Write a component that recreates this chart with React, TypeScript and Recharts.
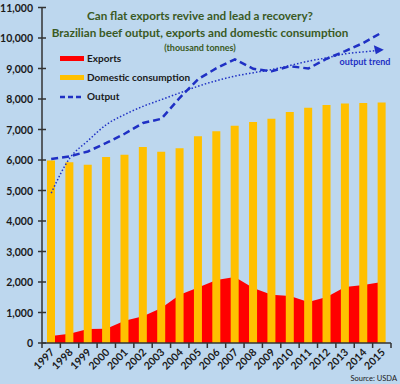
import { ComposedChart, Area, Bar, Line, XAxis, YAxis } from 'recharts';

const years = ['1997', '1998', '1999', '2000', '2001', '2002', '2003', '2004', '2005', '2006', '2007', '2008', '2009', '2010', '2011', '2012', '2013', '2014', '2015'];
const exportsKt = [230, 305, 455, 468, 732, 875, 1150, 1580, 1820, 2065, 2165, 1800, 1585, 1545, 1348, 1505, 1835, 1900, 2000];
const consumption = [5980, 5930, 5846, 6098, 6174, 6426, 6272, 6382, 6776, 6940, 7126, 7248, 7356, 7576, 7717, 7806, 7849, 7871, 7882];
const output = [6030, 6120, 6280, 6560, 6860, 7215, 7350, 8040, 8650, 9010, 9300, 8990, 8910, 9075, 9000, 9320, 9570, 9840, 10180];
const trend = [4915, 6050, 6630, 7160, 7490, 7760, 7980, 8200, 8420, 8600, 8750, 8860, 8965, 9100, 9240, 9350, 9480, 9545, 9600];
const yTicks = [0, 1000, 2000, 3000, 4000, 5000, 6000, 7000, 8000, 9000, 10000, 11000];

const data = years.map((year, i) => ({
  year,
  exports: exportsKt[i],
  consumption: consumption[i],
  output: output[i],
  trend: trend[i],
}));

const BG = '#bdd7ee';
const GREEN = '#3a5a24';
const BLUE = '#1f30c4';
const FONT = 'Lato, "Liberation Sans", sans-serif';
const W = 400;
const H = 384;
const PLOT_LEFT = 42;
const PLOT_RIGHT = 391;
const BAND = (PLOT_RIGHT - PLOT_LEFT) / years.length;

const YTick = (props: any) => {
  const { x, y, payload } = props;
  return (
    <g>
      <line x1={x - 4} x2={x + 4} y1={y} y2={y} stroke="#333" strokeWidth={1.5} />
      <text x={x - 9} y={y + 4} textAnchor="end" fontSize={10.5} fontWeight={700} fill="#1a1a1a" fontFamily={FONT}>
        {payload.value.toLocaleString('en-US')}
      </text>
    </g>
  );
};

const XTick = (props: any) => {
  const { x, y, payload, index } = props;
  const tx = x + 4;
  const ty = y + 10;
  return (
    <g>
      <line x1={x - BAND / 2} x2={x - BAND / 2} y1={y} y2={y + 5} stroke="#333" strokeWidth={1.5} />
      {index === years.length - 1 && (
        <line x1={x + BAND / 2} x2={x + BAND / 2} y1={y} y2={y + 5} stroke="#333" strokeWidth={1.5} />
      )}
      <text
        x={tx}
        y={ty}
        textAnchor="end"
        transform={`rotate(-45 ${tx} ${ty})`}
        fontSize={10.5}
        fontWeight={700}
        fill="#1a1a1a"
        fontFamily={FONT}
      >
        {payload.value}
      </text>
    </g>
  );
};

// arrow head only on the last point of the trend line
const TrendDot = (props: any) => {
  const { cx, cy, index } = props;
  if (index !== years.length - 1) return <g key={`td-${index}`} />;
  return (
    <polygon
      key={`td-${index}`}
      points={`${cx + 2},${cy - 0.5} ${cx - 8},${cy - 5} ${cx - 6},${cy + 4}`}
      fill={BLUE}
    />
  );
};

export default function App() {
  return (
    <div style={{ position: 'absolute', left: 0, top: 0, width: W, height: H, background: BG }}>
      <ComposedChart width={W} height={H} data={data} margin={{ top: 7.5, right: W - PLOT_RIGHT, left: 0, bottom: 0 }}>
        <XAxis
          dataKey="year"
          height={41}
          interval={0}
          tickLine={false}
          tickSize={0}
          tickMargin={0}
          axisLine={{ stroke: '#333', strokeWidth: 1.5 }}
          tick={<XTick />}
        />
        <YAxis
          width={PLOT_LEFT}
          domain={[0, 11000]}
          ticks={yTicks}
          interval={0}
          tickLine={false}
          tickSize={0}
          tickMargin={0}
          axisLine={{ stroke: '#333', strokeWidth: 1.5 }}
          tick={<YTick />}
        />
        <Area
          type="linear"
          dataKey="exports"
          fill="#ff0000"
          fillOpacity={1}
          stroke="none"
          isAnimationActive={false}
        />
        <Bar dataKey="consumption" fill="#ffc000" barSize={8} isAnimationActive={false} />
        <Line
          type="monotone"
          dataKey="trend"
          stroke={BLUE}
          strokeWidth={1.5}
          strokeDasharray="1.5 2"
          dot={<TrendDot />}
          activeDot={false}
          isAnimationActive={false}
        />
        <Line
          type="linear"
          dataKey="output"
          stroke={BLUE}
          strokeWidth={2.5}
          strokeDasharray="7 4"
          dot={false}
          activeDot={false}
          isAnimationActive={false}
        />
      </ComposedChart>

      <svg width={W} height={H} style={{ position: 'absolute', left: 0, top: 0, pointerEvents: 'none' }} fontFamily={FONT}>
        <text x={200} y={20} textAnchor="middle" fontSize={11.7} fontWeight={700} fill={GREEN}>
          Can flat exports revive and lead a recovery?
        </text>
        <text x={200} y={37} textAnchor="middle" fontSize={11.7} fontWeight={700} fill={GREEN}>
          Brazilian beef output, exports and domestic consumption
        </text>
        <text x={200} y={51} textAnchor="middle" fontSize={9} fontWeight={700} fill={GREEN}>
          (thousand tonnes)
        </text>

        {/* legend */}
        <rect x={60} y={56} width={24} height={5} fill="#ff0000" />
        <text x={87} y={62} fontSize={10} fontWeight={700} fill="#1a1a1a">Exports</text>
        <rect x={60} y={75} width={24} height={5} fill="#ffc000" />
        <text x={87} y={81} fontSize={10} fontWeight={700} fill="#1a1a1a">Domestic consumption</text>
        <line x1={60} x2={84} y1={97} y2={97} stroke={BLUE} strokeWidth={2.5} strokeDasharray="5 3" />
        <text x={87} y={100} fontSize={10} fontWeight={700} fill="#1a1a1a">Output</text>

        <text x={365} y={65} textAnchor="middle" fontSize={9} fontWeight={700} fill={BLUE}>output trend</text>
        <text x={397} y={381} textAnchor="end" fontSize={7.5} fill="#1a1a1a">Source: USDA</text>
      </svg>
    </div>
  );
}
